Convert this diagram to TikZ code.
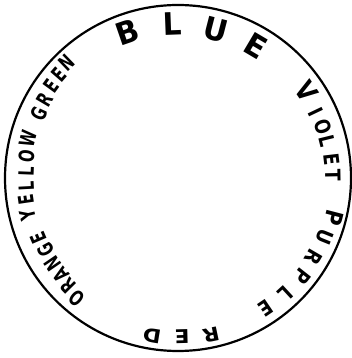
\documentclass[tikz,border=0pt]{standalone}
\usepackage{fontspec}
\setmainfont{DejaVu Sans}
\begin{document}
\begin{tikzpicture}[x=1pt,y=1pt]
\tikzset{
  lt/.style={inner sep=0pt,anchor=center,font=\bfseries\fontsize{#1}{#1}\selectfont},
  ring/.style={line width=2.2pt}
}
\useasboundingbox (-178,-180) rectangle (173,178);
\draw[ring] (0,0) circle (173);
% BLUE
\foreach \a/\r/\l [count=\i] in {109/154/B,92.2/154/L,75.6/153/U,59.4/153/E}
  \node[lt=31,rotate=\a-90] (blue\i) at (\a:\r) {\scalebox{0.95}[1]{\l}};
% VIOLET
\node[lt=27,rotate=-55.8] (vio1) at (34.2:155) {\scalebox{0.85}[1]{V}};
\foreach \a/\r/\l [count=\i from 2] in {25.4/153/I,19.4/154/O,13.9/154/L,6.7/155/E,1.1/155/T}
  \node[lt=21,rotate=\a-90] (vio\i) at (\a:\r) {\scalebox{0.82}[1]{\l}};
% PURPLE
\node[lt=24,rotate=-104.5] (pur1) at (-14.5:161) {\scalebox{0.85}[1]{P}};
\foreach \a/\r/\l [count=\i from 2] in {-21.9/158/U,-30.2/157/R,-38.2/159/P,-47.3/158/L,-55.9/157/E}
  \node[lt=21,rotate=\a-90] (pur\i) at (\a:\r) {\scalebox{0.85}[1]{\l}};
% RED
\foreach \a/\r/\l [count=\i] in {-78.1/160/R,-88.5/159/E,-99.3/160/D}
  \node[lt=19,rotate=\a-90] (red\i) at (\a:\r) {\scalebox{1.15}[1]{\l}};
% ORANGE
\foreach \a/\r/\l [count=\i] in {230.1/157/O,224.5/154/R,219.6/152/A,214.5/152/N,208.6/151/G,203.2/152/E}
  \node[lt=21,rotate=\a-90] (ora\i) at (\a:\r) {\scalebox{0.7}[1]{\l}};
% YELLOW
\foreach \a/\r/\l [count=\i] in {193.8/155/Y,188.3/153/E,183/152/L,177.7/152/L,171.7/153/O,165.5/155/W}
  \node[lt=21,rotate=\a-90] (yel\i) at (\a:\r) {\scalebox{0.7}[1]{\l}};
% GREEN
\foreach \a/\r/\l [count=\i] in {155.3/153/G,149.5/155/R,143.9/157/E,139.1/158/E,134/160/N}
  \node[lt=21,rotate=\a-90] (gre\i) at (\a:\r) {\scalebox{0.7}[1]{\l}};
\end{tikzpicture}
\end{document}
